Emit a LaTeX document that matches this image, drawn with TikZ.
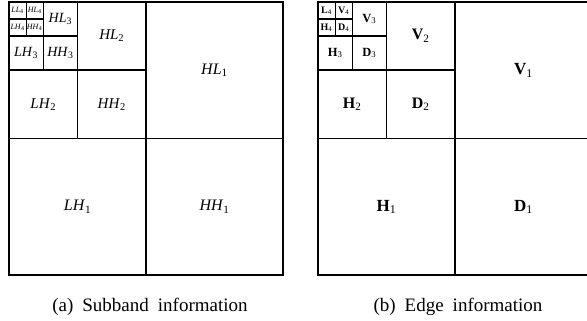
\documentclass[tikz,border=0pt]{standalone}
\usepackage{fontspec}
\setmainfont{Liberation Serif}
\begin{document}
\begin{tikzpicture}[x=1pt,y=-1pt,
  cell/.style={draw=black, line width=1.1pt, outer sep=0pt, inner sep=0pt, anchor=north west},
  frame/.style={draw=black, line width=1.5pt, outer sep=0pt, inner sep=0pt, anchor=north west},
  lab1/.style={font=\fontsize{16}{18}\selectfont},
  lab2/.style={font=\fontsize{15}{17}\selectfont},
  lab3/.style={font=\fontsize{14}{16}\selectfont},
  lab4/.style={font=\fontsize{8}{9}\selectfont},
  blab1/.style={font=\fontsize{17}{19}\selectfont},
  blab2/.style={font=\fontsize{16}{18}\selectfont},
  blab3/.style={font=\fontsize{12.5}{14}\selectfont},
  blab4/.style={font=\fontsize{10}{11}\selectfont},
  subcaption/.style={font=\fontsize{19}{21}\selectfont, anchor=center}]
\useasboundingbox (0,0) rectangle (587,321);
\newcommand{\sbi}[2]{\textit{#1}\textsubscript{#2}}
\newcommand{\edg}[2]{\textbf{#1}\textsubscript{#2}}
% subband decomposition
\begin{scope}
  \node[frame, minimum width=274pt, minimum height=273pt] (aout) at (9,2) {};
  \node[cell, lab1, minimum width=137pt, minimum height=136.5pt] (ahl1) at (146,2) {\sbi{HL}{1}};
  \node[cell, lab1, minimum width=137pt, minimum height=136.5pt] (alh1) at (9,138.5) {\sbi{LH}{1}};
  \node[cell, lab1, minimum width=137pt, minimum height=136.5pt] (ahh1) at (146,138.5) {\sbi{HH}{1}};
  \node[cell, lab2, minimum width=68.5pt, minimum height=68pt] (ahl2) at (77.5,2) {\sbi{HL}{2}};
  \node[cell, lab2, minimum width=68.5pt, minimum height=68.5pt] (alh2) at (9,70) {\sbi{LH}{2}};
  \node[cell, lab2, minimum width=68.5pt, minimum height=68.5pt] (ahh2) at (77.5,70) {\sbi{HH}{2}};
  \node[cell, lab3, minimum width=34.25pt, minimum height=34pt] (ahl3) at (43.25,2) {\sbi{HL}{3}};
  \node[cell, lab3, minimum width=34.25pt, minimum height=34pt] (alh3) at (9,36) {\sbi{LH}{3}};
  \node[cell, lab3, minimum width=34.25pt, minimum height=34pt] (ahh3) at (43.25,36) {\sbi{HH}{3}};
  \node[cell, lab4, minimum width=17.1pt, minimum height=17pt] (all4) at (9,2) {\sbi{LL}{4}};
  \node[cell, lab4, minimum width=17.15pt, minimum height=17pt] (ahl4) at (26.1,2) {\sbi{HL}{4}};
  \node[cell, lab4, minimum width=17.1pt, minimum height=17pt] (alh4) at (9,19) {\sbi{LH}{4}};
  \node[cell, lab4, minimum width=17.15pt, minimum height=17pt] (ahh4) at (26.1,19) {\sbi{HH}{4}};
  \node[subcaption] (acap) at (150,307) {(a)\hspace{9pt}Subband\hspace{9pt}information};
\end{scope}
% edge maps
\begin{scope}[shift={(309,0)}]
  \node[frame, minimum width=274pt, minimum height=273pt] (bout) at (9,2) {};
  \node[cell, blab1, minimum width=137pt, minimum height=136.5pt] (bv1) at (146,2) {\edg{V}{1}};
  \node[cell, blab1, minimum width=137pt, minimum height=136.5pt] (bh1) at (9,138.5) {\edg{H}{1}};
  \node[cell, blab1, minimum width=137pt, minimum height=136.5pt] (bd1) at (146,138.5) {\edg{D}{1}};
  \node[cell, blab2, minimum width=68.5pt, minimum height=68pt] (bv2) at (77.5,2) {\edg{V}{2}};
  \node[cell, blab2, minimum width=68.5pt, minimum height=68.5pt] (bh2) at (9,70) {\edg{H}{2}};
  \node[cell, blab2, minimum width=68.5pt, minimum height=68.5pt] (bd2) at (77.5,70) {\edg{D}{2}};
  \node[cell, blab3, minimum width=34.25pt, minimum height=34pt] (bv3) at (43.25,2) {\edg{V}{3}};
  \node[cell, blab3, minimum width=34.25pt, minimum height=34pt] (bh3) at (9,36) {\edg{H}{3}};
  \node[cell, blab3, minimum width=34.25pt, minimum height=34pt] (bd3) at (43.25,36) {\edg{D}{3}};
  \node[cell, blab4, minimum width=17.1pt, minimum height=17pt] (bl4) at (9,2) {\edg{L}{4}};
  \node[cell, blab4, minimum width=17.15pt, minimum height=17pt] (bv4) at (26.1,2) {\edg{V}{4}};
  \node[cell, blab4, minimum width=17.1pt, minimum height=17pt] (bh4) at (9,19) {\edg{H}{4}};
  \node[cell, blab4, minimum width=17.15pt, minimum height=17pt] (bd4) at (26.1,19) {\edg{D}{4}};
  \node[subcaption] (bcap) at (149,307) {(b)\hspace{9pt}Edge\hspace{9pt}information};
\end{scope}
\end{tikzpicture}
\end{document}
